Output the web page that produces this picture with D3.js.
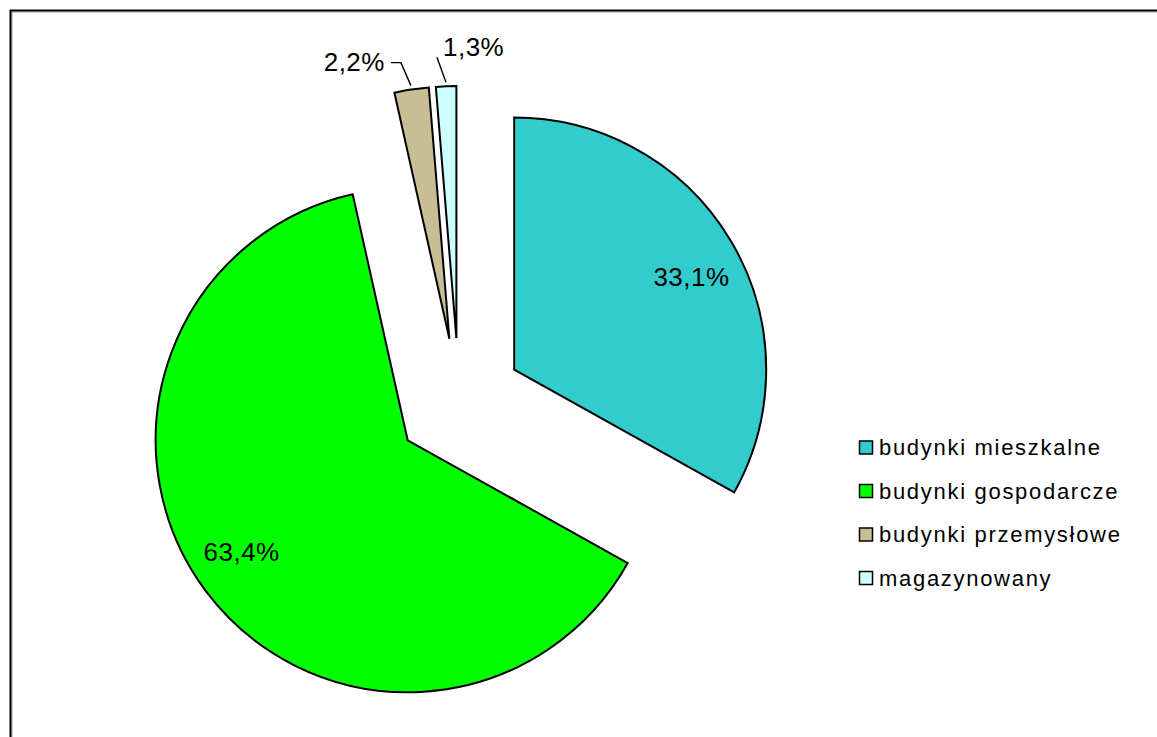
<!DOCTYPE html>
<html>
<head>
<meta charset="utf-8">
<script src="https://cdnjs.cloudflare.com/ajax/libs/d3/7.8.5/d3.min.js"></script>
<style>
  html, body { margin: 0; padding: 0; background: #fff; }
  svg { display: block; font-family: "Liberation Sans", Arial, sans-serif; }
</style>
</head>
<body>
<svg id="chart" width="1157" height="737"></svg>
<script>
// ---- data ----
const categories = ["budynki mieszkalne", "budynki gospodarcze", "budynki przemysłowe", "magazynowany"];
const values = [33.1, 63.4, 2.2, 1.3];
const valueLabels = ["33,1%", "63,4%", "2,2%", "1,3%"];
const colors = ["#33CCCC", "#00FF00", "#C8BE96", "#CCFFFF"];

// ---- layout ----
const W = 1157, H = 737;
const cx = 459, cy = 402, R = 252, explode = 64;
const labelR = 200, labelTurn = 0.05;

const svg = d3.select("#chart");

// frame (top + left visible)
svg.append("path").attr("d", `M12,${H} V12 H${W}`).attr("fill", "none")
  .attr("stroke", "#9a9a9a").attr("stroke-width", 1);
svg.append("path").attr("d", `M10.5,${H} V10.5 H${W}`).attr("fill", "none")
  .attr("stroke", "#000").attr("stroke-width", 2);

const data = categories.map((c, i) => ({ cat: c, value: values[i], label: valueLabels[i], color: colors[i] }));
const pie = d3.pie().value(d => d.value).sort(null).startAngle(0).endAngle(2 * Math.PI);
const arcs = pie(data);
const arc = d3.arc().innerRadius(0).outerRadius(R);

const g = svg.append("g").attr("transform", `translate(${cx},${cy})`);

function offset(a) {
  const mid = (a.startAngle + a.endAngle) / 2;
  return [explode * Math.sin(mid), -explode * Math.cos(mid)];
}

const slices = g.selectAll("g.slice").data(arcs).enter().append("g")
  .attr("class", "slice")
  .attr("transform", d => { const o = offset(d); return `translate(${o[0]},${o[1]})`; });

slices.append("path")
  .attr("d", arc)
  .attr("fill", d => d.data.color)
  .attr("stroke", "#000")
  .attr("stroke-width", 2)
  .attr("stroke-linejoin", "miter");

// inside labels for big slices
const labelArc = d3.arc().innerRadius(labelR).outerRadius(labelR);
slices.filter((d, i) => i < 2).append("text")
  .attr("transform", d => {
    const c = labelArc.centroid({ startAngle: d.startAngle + labelTurn, endAngle: d.endAngle + labelTurn });
    return `translate(${c[0]},${c[1]})`;
  })
  .attr("text-anchor", "middle")
  .attr("dy", "0.36em")
  .attr("font-size", 26)
  .attr("letter-spacing", 0.5)
  .attr("fill", "#000")
  .text(d => d.data.label);

// outside labels with leader lines for small slices
const outerArc = d3.arc().innerRadius(R + 4).outerRadius(R + 4);
const leaderShape = [
  { bend: [-10, -23], end: [-20, -23], text: [-26, -24], anchor: "end" },
  { bend: [-9, -25], end: null, text: [-3, -36], anchor: "start" }
];
slices.filter((d, i) => i >= 2).each(function(d, j) {
  const s = d3.select(this);
  const p = outerArc.centroid(d);
  const L = leaderShape[j];
  const pts = [p, [p[0] + L.bend[0], p[1] + L.bend[1]]];
  if (L.end) pts.push([p[0] + L.end[0], p[1] + L.end[1]]);
  s.append("path")
    .attr("d", d3.line()(pts))
    .attr("fill", "none")
    .attr("stroke", "#000")
    .attr("stroke-width", 1.4);
  s.append("text")
    .attr("x", p[0] + L.text[0])
    .attr("y", p[1] + L.text[1])
    .attr("text-anchor", L.anchor)
    .attr("dy", "0.36em")
    .attr("font-size", 26)
    .attr("letter-spacing", 0.5)
    .attr("fill", "#000")
    .text(d.data.label);
});

// legend
const legY = d3.scalePoint().domain(categories).range([447.5, 578]);
const leg = svg.append("g");
const items = leg.selectAll("g").data(data).enter().append("g")
  .attr("transform", d => `translate(859,${legY(d.cat)})`);
items.append("rect")
  .attr("x", 0.5).attr("y", -6.5).attr("width", 13).attr("height", 13)
  .attr("fill", d => d.color).attr("stroke", "#000").attr("stroke-width", 1.5);
items.append("text")
  .attr("x", 20).attr("dy", "0.36em")
  .attr("font-size", 22)
  .attr("letter-spacing", 1.7)
  .attr("fill", "#000")
  .text(d => d.cat);
</script>
</body>
</html>
